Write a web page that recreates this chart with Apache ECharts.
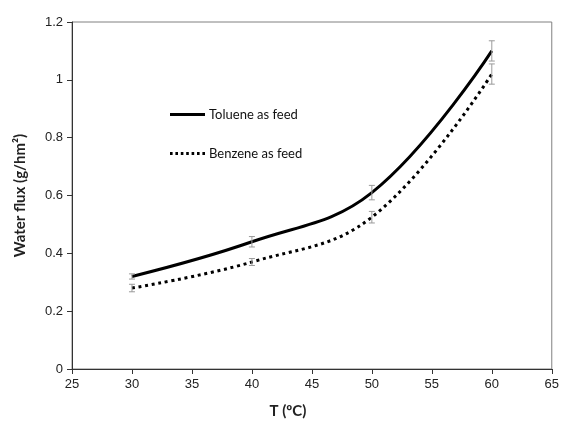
<!DOCTYPE html>
<html>
<head>
<meta charset="utf-8">
<script src="https://cdn.jsdelivr.net/npm/echarts@6/dist/echarts.min.js"></script>
<style>
  html, body { margin: 0; padding: 0; background: #fff; }
  #main { width: 562px; height: 443px; }
</style>
</head>
<body>
<div id="main"></div>
<script>
// temperatures (°C)
var temps = [30, 40, 50, 60]
// water flux, g/hm2
var toluene = [0.32, 0.44, 0.61, 1.10]
var benzene = [0.28, 0.37, 0.525, 1.02]
// error bar half heights
var tolueneErr = [0.009, 0.018, 0.025, 0.035]
var benzeneErr = [0.013, 0.012, 0.02, 0.035]

var xTicks = [25, 30, 35, 40, 45, 50, 55, 60, 65]
var yTicks = [0, 0.2, 0.4, 0.6, 0.8, 1, 1.2]

function pairs (xs, ys) {
  var out = []
  for (var i = 0; i < xs.length; i++) out.push([xs[i], ys[i]])
  return out
}
function errRows (xs, ys, es) {
  var out = []
  for (var i = 0; i < xs.length; i++) out.push([xs[i], ys[i], es[i]])
  return out
}

function errorBar (params, api) {
  var x = api.value(0), y = api.value(1), e = api.value(2)
  var hi = api.coord([x, y + e])
  var lo = api.coord([x, y - e])
  var w = 3
  var st = { stroke: '#9a9a9a', lineWidth: 1 }
  return {
    type: 'group',
    children: [
      { type: 'line', shape: { x1: hi[0], y1: hi[1], x2: lo[0], y2: lo[1] }, style: st },
      { type: 'line', shape: { x1: hi[0] - w, y1: hi[1], x2: hi[0] + w, y2: hi[1] }, style: st },
      { type: 'line', shape: { x1: lo[0] - w, y1: lo[1], x2: lo[0] + w, y2: lo[1] }, style: st }
    ]
  }
}

// legend icons: solid bar and a row of dots
var solidIcon = 'path://M0,0 L35,0 L35,3 L0,3 Z'
var dotIcon = 'path://M0,0h2.6v3h-2.6z M5.4,0h2.6v3h-2.6z M10.8,0h2.6v3h-2.6z M16.2,0h2.6v3h-2.6z M21.6,0h2.6v3h-2.6z M27,0h2.6v3h-2.6z M32.4,0h2.6v3h-2.6z'

var chart = echarts.init(document.getElementById('main'))
var labelFont = { color: '#222', fontFamily: 'Liberation Sans', fontSize: 13 }

chart.setOption({
  animation: false,
  grid: {
    left: 72, right: 9, top: 22, bottom: 74,
    show: true, borderColor: '#808080', borderWidth: 1
  },
  legend: {
    orient: 'vertical',
    left: 165, top: 103,
    itemWidth: 35, itemHeight: 10, itemGap: 26,
    textStyle: { fontFamily: 'Lato', fontSize: 13, color: '#111', padding: [0, 0, 0, -1] },
    data: [
      { name: 'Toluene as feed', icon: solidIcon, itemStyle: { color: '#000' } },
      { name: 'Benzene as feed', icon: dotIcon, itemStyle: { color: '#000' } }
    ]
  },
  xAxis: {
    type: 'value', min: xTicks[0], max: xTicks[xTicks.length - 1], interval: 5,
    name: 'T (ºC)', nameLocation: 'middle', nameGap: 35,
    nameTextStyle: { fontFamily: 'Lato', fontWeight: 'bold', fontSize: 15, color: '#222', padding: [0, 48, 0, 0] },
    axisLine: { lineStyle: { color: '#333', width: 1 } },
    axisTick: { show: true, inside: false, length: 5, lineStyle: { color: '#333' } },
    axisLabel: Object.assign({ margin: 9 }, labelFont),
    splitLine: { show: false }
  },
  yAxis: {
    type: 'value', min: yTicks[0], max: yTicks[yTicks.length - 1], interval: 0.2,
    name: 'Water flux (g/hm²)', nameLocation: 'middle', nameGap: 44,
    nameTextStyle: { fontFamily: 'Lato', fontWeight: 'bold', fontSize: 15, color: '#222' },
    axisLine: { show: true, lineStyle: { color: '#333', width: 1 } },
    axisTick: { show: true, inside: false, length: 5, lineStyle: { color: '#333' } },
    axisLabel: Object.assign({ margin: 9 }, labelFont),
    splitLine: { show: false }
  },
  series: [
    {
      name: 'Toluene as feed', type: 'line', smooth: 0.4, symbol: 'none',
      data: pairs(temps, toluene),
      lineStyle: { color: '#000', width: 3 }, itemStyle: { color: '#000' }, z: 3
    },
    {
      name: 'Benzene as feed', type: 'line', smooth: 0.4, symbol: 'none',
      data: pairs(temps, benzene),
      lineStyle: { color: '#000', width: 3, type: [3, 3.7] }, itemStyle: { color: '#000' }, z: 3
    },
    { type: 'custom', renderItem: errorBar, data: errRows(temps, toluene, tolueneErr), z: 4, silent: true },
    { type: 'custom', renderItem: errorBar, data: errRows(temps, benzene, benzeneErr), z: 4, silent: true }
  ]
})
</script>
</body>
</html>
